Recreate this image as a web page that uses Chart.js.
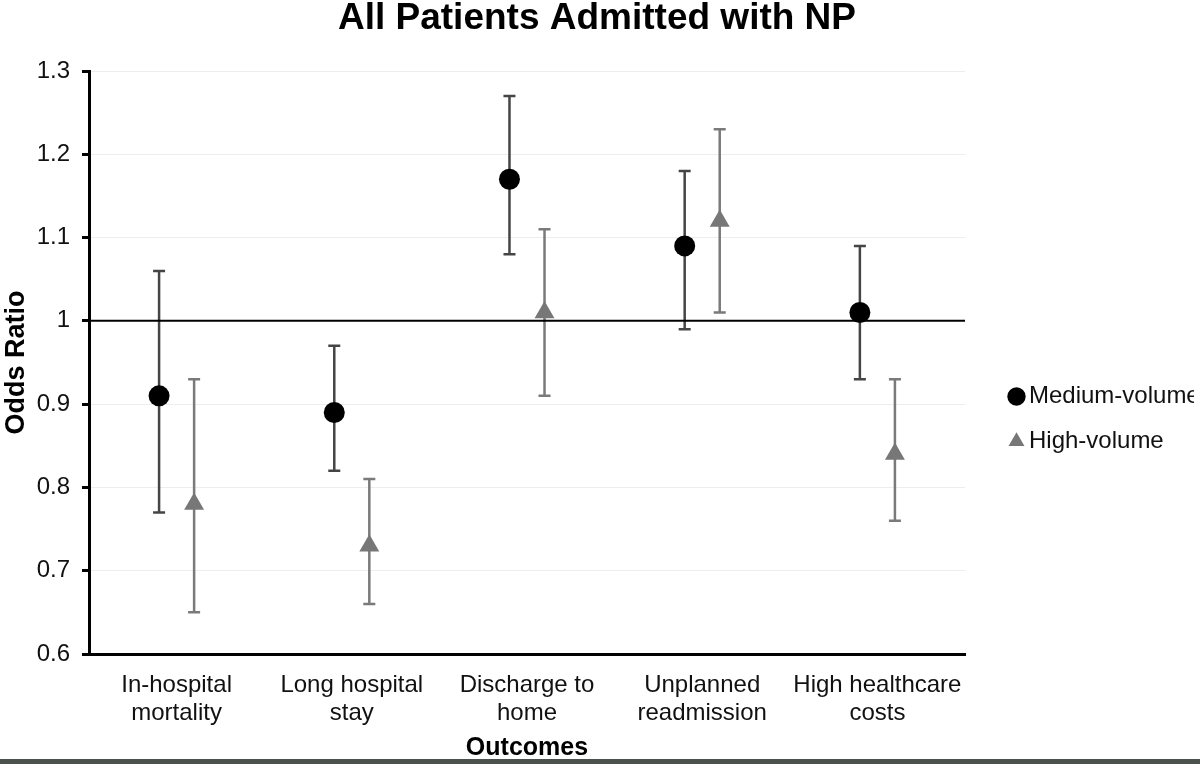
<!DOCTYPE html>
<html>
<head>
<meta charset="utf-8">
<title>All Patients Admitted with NP</title>
<script src="https://cdn.jsdelivr.net/npm/chart.js@4.4.1/dist/chart.umd.min.js"></script>
<style>
  html, body { margin: 0; padding: 0; background: #fff; overflow: hidden; }
  #wrap { position: relative; width: 1201px; height: 764px; }
  #edge { position: absolute; left: 0; top: 759px; width: 1201px; height: 5px; background: #4b524d; }
</style>
</head>
<body>
<div id="wrap"><canvas id="orChart"></canvas></div>
<div id="edge"></div>
<script>
// outcome categories (one array per label line)
const outcomes = [
    ['In-hospital', 'mortality'],
    ['Long hospital', 'stay'],
    ['Discharge to', 'home'],
    ['Unplanned', 'readmission'],
    ['High healthcare', 'costs']
];

// medium-volume hospitals: odds ratio and 95% CI
const mediumOR = [0.91, 0.89, 1.17, 1.09, 1.01];
const mediumLow = [0.77, 0.82, 1.08, 0.99, 0.93];
const mediumHigh = [1.06, 0.97, 1.27, 1.18, 1.09];

// high-volume hospitals: odds ratio and 95% CI
const highOR = [0.78, 0.73, 1.01, 1.12, 0.84];
const highLow = [0.65, 0.66, 0.91, 1.01, 0.76];
const highHigh = [0.93, 0.81, 1.11, 1.23, 0.93];

const yTickLabels = ['0.6', '0.7', '0.8', '0.9', '1', '1.1', '1.2', '1.3'];

// whiskers drawn under the markers
const errorBars = {
    id: 'errorBars',
    beforeDatasetsDraw(chart) {
        const ctx = chart.ctx;
        const x = chart.scales.x;
        const y = chart.scales.y;
        chart.data.datasets.forEach(function (ds) {
            if (!ds.ciLow) return;
            ctx.save();
            ctx.strokeStyle = ds.ciColor;
            ctx.lineWidth = 2.5;
            ds.data.forEach(function (pt, i) {
                const px = x.getPixelForValue(pt.x);
                const lo = y.getPixelForValue(ds.ciLow[i]);
                const hi = y.getPixelForValue(ds.ciHigh[i]);
                ctx.beginPath();
                ctx.moveTo(px, lo);
                ctx.lineTo(px, hi);
                ctx.moveTo(px - 6, lo);
                ctx.lineTo(px + 6, lo);
                ctx.moveTo(px - 6, hi);
                ctx.lineTo(px + 6, hi);
                ctx.stroke();
            });
            ctx.restore();
        });
    }
};

function toPoints(values, shift) {
    return values.map(function (v, i) { return { x: i + shift, y: v }; });
}

Chart.defaults.font.family = "'Liberation Sans', Arial, sans-serif";
Chart.defaults.color = '#111';

const ctx = document.getElementById('orChart').getContext('2d');

new Chart(ctx, {
    type: 'scatter',
    data: {
        datasets: [{
            label: 'Medium-volume',
            data: toPoints(mediumOR, -0.1),
            ciLow: mediumLow,
            ciHigh: mediumHigh,
            ciColor: '#454545',
            pointStyle: 'circle',
            pointRadius: 10.5,
            backgroundColor: '#000',
            borderWidth: 0
        }, {
            label: 'High-volume',
            data: toPoints(highOR, 0.1),
            ciLow: highLow,
            ciHigh: highHigh,
            ciColor: '#7a7a7a',
            pointStyle: 'triangle',
            pointRadius: 11.5,
            backgroundColor: '#777',
            borderWidth: 0
        }, {
            label: 'ref',
            type: 'line',
            data: [{ x: -0.5, y: 1 }, { x: 4.5, y: 1 }],
            borderColor: '#000',
            borderWidth: 2,
            pointRadius: 0,
            order: 5
        }]
    },
    options: {
        responsive: true,
        maintainAspectRatio: false,
        animation: false,
        events: [],
        layout: {
            padding: { top: 0, bottom: 0, left: 0, right: 7 }
        },
        scales: {
            x: {
                type: 'linear',
                min: -0.5,
                max: 4.5,
                afterBuildTicks: function (scale) {
                    scale.ticks = outcomes.map(function (_, i) { return { value: i }; });
                },
                afterFit: function (scale) { scale.height = 110; },
                grid: { display: false, drawTicks: false },
                border: { color: '#000', width: 3 },
                ticks: {
                    autoSkip: false,
                    maxRotation: 0,
                    padding: 17,
                    font: { size: 24, lineHeight: 1.17 },
                    callback: function (value) { return outcomes[value]; }
                },
                title: {
                    display: true,
                    text: 'Outcomes',
                    font: { size: 25, weight: 'bold' },
                    color: '#000',
                    padding: { top: 7, bottom: 1 }
                }
            },
            y: {
                min: 0.6,
                max: 1.3,
                afterFit: function (scale) { scale.width = 89; },
                ticks: {
                    stepSize: 0.1,
                    padding: 12,
                    font: { size: 24 },
                    callback: function (value, index) { return yTickLabels[index]; }
                },
                grid: {
                    color: '#ededed',
                    lineWidth: 1,
                    tickColor: '#000',
                    tickLength: 7,
                    tickWidth: 3
                },
                border: { color: '#000', width: 3 },
                title: {
                    display: true,
                    text: 'Odds Ratio',
                    font: { size: 27, weight: 'bold' },
                    color: '#000',
                    padding: { top: 0, bottom: 2 }
                }
            },
            gap: {
                type: 'linear',
                position: 'right',
                min: 0,
                max: 1,
                grid: { display: false, drawTicks: false },
                border: { display: false },
                ticks: { display: false },
                afterFit: function (scale) { scale.width = 30; }
            }
        },
        plugins: {
            title: {
                display: true,
                text: 'All Patients Admitted with NP',
                color: '#000',
                font: { size: 37, weight: 'bold', lineHeight: 1 },
                padding: { top: 0, bottom: 34 }
            },
            legend: {
                display: true,
                position: 'right',
                align: 'center',
                labels: {
                    usePointStyle: true,
                    boxWidth: 1,
                    boxHeight: 13,
                    padding: 21,
                    font: { size: 24 },
                    filter: function (item) { return item.text !== 'ref'; }
                },
                title: {
                    display: true,
                    text: ' ',
                    font: { size: 10, lineHeight: 1 },
                    padding: { top: 64, bottom: 0 }
                }
            },
            tooltip: { enabled: false }
        }
    },
    plugins: [errorBars]
});
</script>
</body>
</html>
